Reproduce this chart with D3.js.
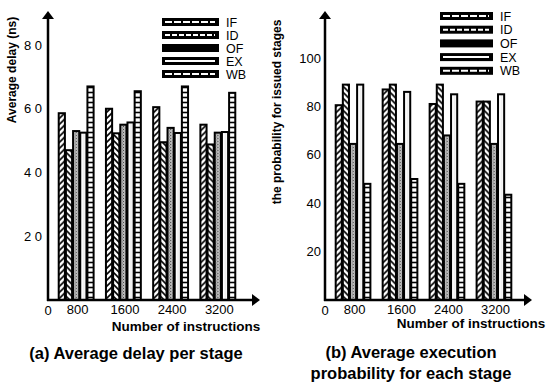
<!DOCTYPE html>
<html><head><meta charset="utf-8">
<script src="https://cdn.jsdelivr.net/npm/d3@7"></script>
<style>body{margin:0;background:#fff}svg{display:block}text{font-family:"Liberation Sans",Arial,sans-serif}</style>
</head><body><svg id="c" width="546" height="383"></svg>
<script>
const groups = ["800","1600","2400","3200"];
const stages = ["IF","ID","OF","EX","WB"];
// (a) Average delay per stage (ns)
const delayIF = [58.6, 60, 60.5, 55];
const delayID = [47, 52.3, 49.5, 48.8];
const delayOF = [53, 55, 54, 52.5];
const delayEX = [52.5, 55.7, 52.4, 52.7];
const delayWB = [67, 65.5, 67, 65];
// (b) Average execution probability
const probIF = [80.5, 87, 81, 82];
const probID = [89, 89, 89, 82];
const probOF = [64.5, 64.5, 68, 64.5];
const probEX = [89, 86, 85, 85];
const probWB = [48, 50, 48, 43.5];
const delayTicks = [20,40,60,80];
const delayTickLabels = ["2 0","4 0","6 0","8 0"];
const probTicks = [20,40,60,80,100];
const probTickLabels = ["20","40","60","80","100"];

const svg = d3.select("#c");
const defs = svg.append("defs");
function pat(id, w, h, draw){
  const p = defs.append("pattern").attr("id",id).attr("patternUnits","userSpaceOnUse").attr("width",w).attr("height",h);
  p.append("rect").attr("width",w).attr("height",h).attr("fill","#fff");
  draw(p);
}
pat("pIF",6,6,p=>p.append("path").attr("d","M0,6 L6,0 M-1,1 L1,-1 M5,7 L7,5").attr("stroke","#000").attr("stroke-width",1.6));
pat("pID",6,6,p=>p.append("path").attr("d","M0,0 L6,6 M-1,5 L1,7 M5,-1 L7,1").attr("stroke","#000").attr("stroke-width",1.6));
pat("pOF",3,3,p=>{p.select("rect").attr("fill","#bbb");p.append("rect").attr("x",0).attr("y",0).attr("width",1).attr("height",1).attr("fill","#444");p.append("rect").attr("x",2).attr("y",1.5).attr("width",1).attr("height",1).attr("fill","#777");});
pat("pEX",4,4,p=>p.append("path").attr("d","M2,0 L2,4").attr("stroke","#ccc").attr("stroke-width",0.6));
pat("pWB",6,5,p=>p.append("path").attr("d","M0,2.5 L6,2.5").attr("stroke","#000").attr("stroke-width",1.6));
const fills = {IF:"url(#pIF)",ID:"url(#pID)",OF:"url(#pOF)",EX:"url(#pEX)",WB:"url(#pWB)"};

function chart(cfg){
  const g = svg.append("g");
  const y = d3.scaleLinear().domain(cfg.domain).range([cfg.base, cfg.yTopVal]);
  const x0 = d3.scaleBand().domain(groups).range(cfg.xRange).paddingInner(0.24).paddingOuter(0.1);
  const x1 = d3.scaleBand().domain(stages).range([0, x0.bandwidth()]);
  const data = groups.map((gr,i)=>({g:gr, vals: stages.map((s,j)=>({s, v: cfg.series[j][i]}))}));
  const gg = g.selectAll(".grp").data(data).join("g").attr("transform",d=>`translate(${x0(d.g)},0)`);
  gg.selectAll("rect").data(d=>d.vals).join("rect")
    .attr("x",d=>x1(d.s)+1).attr("width",x1.bandwidth()-1)
    .attr("y",d=>y(d.v)).attr("height",d=>y(0)-y(d.v))
    .attr("fill",d=>fills[d.s]).attr("stroke","#000").attr("stroke-width",2);
  // axes
  g.append("line").attr("x1",cfg.ax).attr("x2",cfg.ax).attr("y1",y(0)+1).attr("y2",cfg.arrowTop+6).attr("stroke","#000").attr("stroke-width",2.5);
  g.append("path").attr("d",`M${cfg.ax-6},${cfg.arrowTop+8} L${cfg.ax},${cfg.arrowTop} L${cfg.ax+6},${cfg.arrowTop+8} Z`).attr("fill","#000");
  g.append("line").attr("x1",cfg.ax-1).attr("x2",cfg.xEnd-6).attr("y1",y(0)).attr("y2",y(0)).attr("stroke","#000").attr("stroke-width",2.5);
  g.append("path").attr("d",`M${cfg.xEnd-8},${y(0)-6} L${cfg.xEnd},${y(0)} L${cfg.xEnd-8},${y(0)+6} Z`).attr("fill","#000");
  // y ticks
  const ya = d3.axisLeft(y).tickValues(cfg.ticks).tickFormat((d,i)=>cfg.tickLabels[i]).tickSize(0).tickPadding(cfg.tickPad);
  const yg = g.append("g").attr("transform",`translate(${cfg.ax},0)`).call(ya);
  yg.select(".domain").remove();
  yg.selectAll("text").attr("font-size",13).attr("fill","#000").attr("font-family","Liberation Sans, Arial, sans-serif");
  // x ticks
  const xa = d3.axisBottom(x0).tickSize(0).tickPadding(5);
  const xg = g.append("g").attr("transform",`translate(0,${y(0)})`).call(xa);
  xg.select(".domain").remove();
  xg.selectAll("text").attr("font-size",13).attr("fill","#000").attr("font-family","Liberation Sans, Arial, sans-serif").attr("dx",cfg.xdx);
  g.append("text").attr("x",cfg.ax).attr("y",y(0)+15).attr("text-anchor","middle").attr("font-size",13).text("0");
  // titles
  g.append("text").attr("transform",`translate(${cfg.ytx},${cfg.yty}) rotate(-90)`).attr("text-anchor","middle")
    .attr("font-size",12).attr("font-weight","bold").text(cfg.ytitle);
  g.append("text").attr("x",cfg.xtx).attr("y",cfg.xty).attr("text-anchor","middle").attr("font-size",13.5).attr("font-weight","bold").text("Number of instructions");
  cfg.caption.forEach((c,i)=>g.append("text").attr("x",cfg.capx).attr("y",cfg.capy+i*21).attr("text-anchor","middle").attr("font-size",16.5).attr("font-weight","bold").text(c));
  // legend
  const lg = g.selectAll(".leg").data(stages).join("g").attr("transform",(d,i)=>`translate(${cfg.legx},${cfg.legy+i*cfg.legdy})`);
  lg.append("rect").attr("x",0).attr("y",-4).attr("width",cfg.legw).attr("height",8).attr("fill","#000");
  lg.filter(d=>d!=="OF").append("line").attr("x1",3).attr("x2",cfg.legw-4).attr("y1",0).attr("y2",0)
    .attr("stroke","#fff").attr("stroke-width",2)
    .attr("stroke-dasharray",d=>d==="EX"?null:(d==="ID"?"5,2":"7,2"));
  lg.append("text").attr("x",cfg.legw+7).attr("y",4.5).attr("font-size",12.5).text(d=>d);
}

chart({domain:[0,80], base:300, yTopVal:45, xRange:[53,240], ax:48, arrowTop:11, xEnd:260,
  series:[delayIF,delayID,delayOF,delayEX,delayWB], ticks:delayTicks, tickLabels:delayTickLabels, tickPad:6, xdx:2,
  ytitle:"Average delay (ns)", ytx:16, yty:70, xtx:186, xty:331,
  caption:["(a) Average delay per stage"], capx:136, capy:359,
  legx:162, legy:22, legdy:13, legw:57});
chart({domain:[0,100], base:300, yTopVal:58, xRange:[330,516], ax:325, arrowTop:11, xEnd:532,
  series:[probIF,probID,probOF,probEX,probWB], ticks:probTicks, tickLabels:probTickLabels, tickPad:4, xdx:2,
  ytitle:"the probability for issued stages", ytx:281, yty:112, xtx:471, xty:328,
  caption:["(b) Average execution","probability for each stage"], capx:411, capy:358,
  legx:440, legy:16, legdy:13.7, legw:53});
</script></body></html>
